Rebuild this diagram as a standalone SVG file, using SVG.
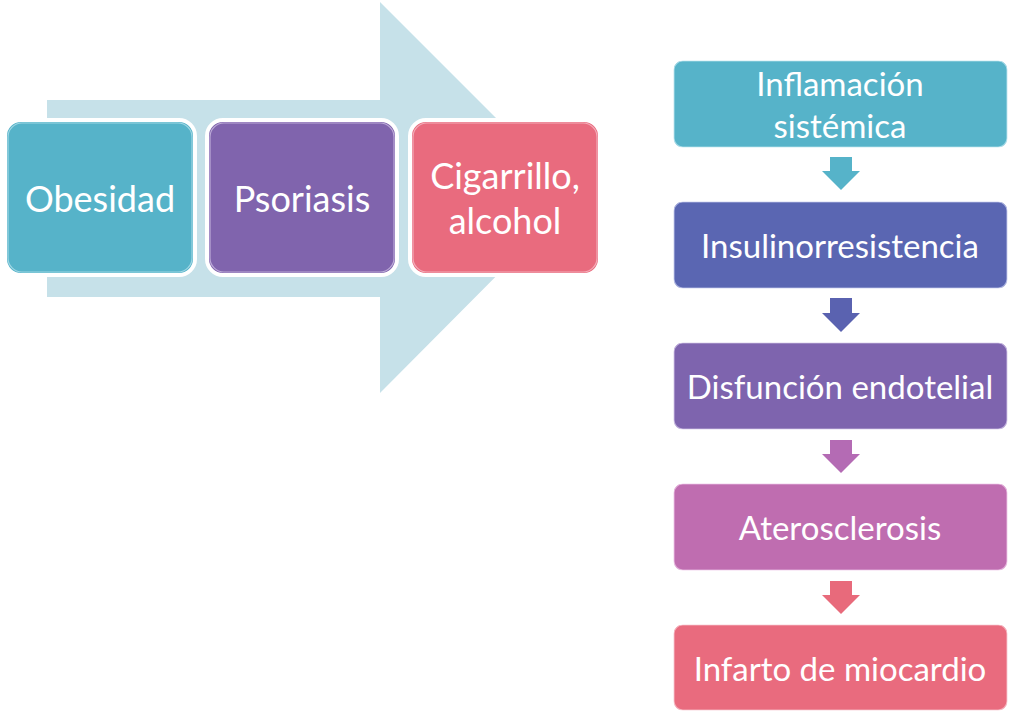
<svg xmlns="http://www.w3.org/2000/svg" width="1018" height="716" viewBox="0 0 1018 716">
<style>
.box{stroke:#fff;stroke-width:4}
.in{fill:none;stroke-width:1.2;stroke-opacity:0.7}
.t{font-family:Lato,"Open Sans",sans-serif;fill:#fff;text-anchor:middle;dominant-baseline:central}
.big{font-size:36px}
.med{font-size:33px}
</style>
<rect width="1018" height="716" fill="#fff"/>
<g id="bigArrow">
<polygon points="47,100 380,100 380,2 575,197 380,393 380,297 47,297" fill="#c6e1e9"/>
</g>
<g id="obesidad">
<rect class="box" x="5" y="120" width="190" height="155" rx="16" fill="#56b3c9"/>
<rect class="in" x="8" y="123" width="184" height="149" rx="14" stroke="#bfe6ef"/>
<text class="t big" x="100" y="198">Obesidad</text>
</g>
<g id="psoriasis">
<rect class="box" x="207" y="120" width="190" height="155" rx="16" fill="#8064ad"/>
<rect class="in" x="210" y="123" width="184" height="149" rx="14" stroke="#d6c9ea"/>
<text class="t big" x="302" y="198">Psoriasis</text>
</g>
<g id="cigarrillo">
<rect class="box" x="410" y="120" width="190" height="155" rx="16" fill="#e96b7e"/>
<rect class="in" x="413" y="123" width="184" height="149" rx="14" stroke="#f8c9d1"/>
<text class="t big" x="505" y="175">Cigarrillo,</text>
<text class="t big" x="505" y="220">alcohol</text>
</g>
<g id="connectors">
<polygon points="830,157 852,157 852,171 860,171 841,190 822,171 830,171" fill="#56b3c9"/>
<polygon points="830,298 852,298 852,313 860,313 841,332 822,313 830,313" fill="#5a62b0"/>
<polygon points="830,440 852,440 852,454 860,454 841,473 822,454 830,454" fill="#b46bb4"/>
<polygon points="830,581 852,581 852,595 860,595 841,614 822,595 830,595" fill="#e86a7b"/>
</g>
<g id="inflamacion">
<rect class="box" x="672" y="59" width="337" height="90" rx="10" fill="#56b3c9"/>
<rect class="in" x="674" y="61" width="333" height="86" rx="9" stroke="#bfe6ef"/>
<text class="t med" x="840" y="83">Inflamación</text>
<text class="t med" x="840" y="125">sistémica</text>
</g>
<g id="insulino">
<rect class="box" x="672" y="200" width="337" height="90" rx="10" fill="#5a66b2"/>
<rect class="in" x="674" y="202" width="333" height="86" rx="9" stroke="#c8cdee"/>
<text class="t med" x="840" y="245">Insulinorresistencia</text>
</g>
<g id="disfuncion">
<rect class="box" x="672" y="341" width="337" height="90" rx="10" fill="#7e64ae"/>
<rect class="in" x="674" y="343" width="333" height="86" rx="9" stroke="#d6c9ea"/>
<text class="t med" x="840" y="386">Disfunción endotelial</text>
</g>
<g id="aterosclerosis">
<rect class="box" x="672" y="482" width="337" height="90" rx="10" fill="#bf6db0"/>
<rect class="in" x="674" y="484" width="333" height="86" rx="9" stroke="#efc8e8"/>
<text class="t med" x="840" y="527">Aterosclerosis</text>
</g>
<g id="infarto">
<rect class="box" x="672" y="623" width="337" height="89" rx="10" fill="#e96b7e"/>
<rect class="in" x="674" y="625" width="333" height="85" rx="9" stroke="#f8c9d1"/>
<text class="t med" x="840" y="668">Infarto de miocardio</text>
</g>
</svg>
